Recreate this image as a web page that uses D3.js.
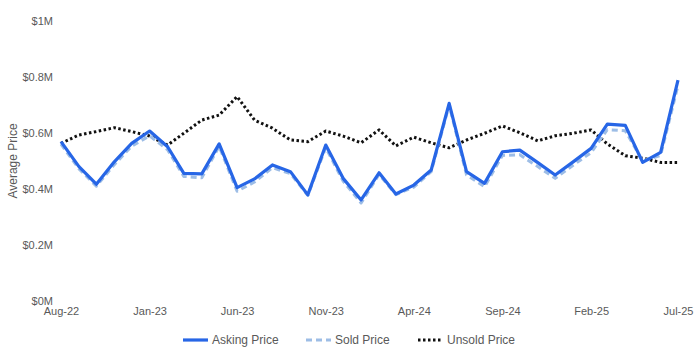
<!DOCTYPE html>
<html>
<head>
<meta charset="utf-8">
<script src="https://cdn.jsdelivr.net/npm/d3@7"></script>
<style>
  html, body { margin: 0; padding: 0; background: #fff; }
  svg { display: block; font-family: "Liberation Sans", Arial, sans-serif; }
</style>
</head>
<body>
<svg id="chart" width="700" height="350"></svg>
<script>
// Monthly series, Aug-22 through Jul-25
const months = d3.range(36).map(i => new Date(2022, 7 + i, 1));

const askingPrice = [
  0.569, 0.480, 0.417, 0.497, 0.563, 0.607, 0.551, 0.456, 0.454, 0.561,
  0.405, 0.436, 0.486, 0.462, 0.379, 0.557, 0.438, 0.361, 0.458, 0.382,
  0.414, 0.468, 0.706, 0.462, 0.420, 0.533, 0.539, 0.494, 0.450, 0.497,
  0.545, 0.632, 0.627, 0.495, 0.531, 0.789
];

const soldPrice = [
  0.560, 0.472, 0.410, 0.487, 0.553, 0.590, 0.540, 0.445, 0.440, 0.552,
  0.392, 0.425, 0.476, 0.455, 0.377, 0.548, 0.428, 0.350, 0.452, 0.380,
  0.407, 0.462, 0.700, 0.450, 0.408, 0.520, 0.522, 0.480, 0.438, 0.485,
  0.530, 0.612, 0.608, 0.500, 0.520, 0.770
];

const unsoldPrice = [
  0.563, 0.593, 0.605, 0.619, 0.605, 0.589, 0.557, 0.599, 0.646, 0.664,
  0.730, 0.646, 0.617, 0.575, 0.569, 0.607, 0.589, 0.565, 0.611, 0.554,
  0.585, 0.565, 0.547, 0.575, 0.599, 0.625, 0.601, 0.572, 0.590, 0.599,
  0.611, 0.561, 0.519, 0.510, 0.495, 0.495
];

const yTicks = [0, 0.2, 0.4, 0.6, 0.8, 1];
const xTickIndex = [0, 5, 10, 15, 20, 25, 30, 35];
const seriesNames = ["Asking Price", "Sold Price", "Unsold Price"];

const svg = d3.select("#chart");
const margin = { left: 61, right: 22, top: 21, bottom: 49 };
const W = 700, H = 350;

const x = d3.scaleTime()
  .domain([months[0], months[months.length - 1]])
  .range([margin.left, W - margin.right]);

const y = d3.scaleLinear()
  .domain([0, 1])
  .range([H - margin.bottom, margin.top]);

const fmtMonth = d3.timeFormat("%b-%y");
const fmtMoney = v => v === 1 ? "$1M" : (v === 0 ? "$0M" : "$" + d3.format(".1f")(v) + "M");

// Y axis labels
const yAxis = d3.axisLeft(y).tickValues(yTicks).tickFormat(fmtMoney).tickSize(0).tickPadding(8);
const gy = svg.append("g").attr("transform", `translate(${margin.left},0)`).call(yAxis);
gy.select(".domain").remove();
gy.selectAll("text").attr("fill", "#595959").attr("font-size", 11);

// X axis labels
const xAxis = d3.axisBottom(x)
  .tickValues(xTickIndex.map(i => months[i]))
  .tickFormat(fmtMonth).tickSize(0).tickPadding(6);
const gx = svg.append("g").attr("transform", `translate(0,${H - margin.bottom})`).call(xAxis);
gx.select(".domain").remove();
gx.selectAll("text").attr("fill", "#595959").attr("font-size", 11);

// Axis title
svg.append("text")
  .attr("transform", `translate(17,${(margin.top + H - margin.bottom) / 2}) rotate(-90)`)
  .attr("text-anchor", "middle")
  .attr("fill", "#595959")
  .attr("font-size", 12)
  .text("Average Price");

const line = d3.line().x((d, i) => x(months[i])).y(d => y(d));

const styles = [
  { data: askingPrice, color: "#2766e6", width: 3.2, dash: null },
  { data: soldPrice, color: "#9dbde6", width: 3, dash: "6,4" },
  { data: unsoldPrice, color: "#111111", width: 3, dash: "2.5,2.5" }
];

// Draw order: unsold, sold, asking (asking on top)
[2, 1, 0].forEach(k => {
  const s = styles[k];
  svg.append("path")
    .datum(s.data)
    .attr("fill", "none")
    .attr("stroke", s.color)
    .attr("stroke-width", s.width)
    .attr("stroke-linejoin", "round")
    .attr("stroke-dasharray", s.dash)
    .attr("d", line);
});

// Legend
const legendX = [183, 306, 418];
const legendY = 340;
seriesNames.forEach((name, k) => {
  const s = styles[k];
  const g = svg.append("g").attr("transform", `translate(${legendX[k]},${legendY})`);
  g.append("line")
    .attr("x1", 0).attr("x2", 25).attr("y1", 0).attr("y2", 0)
    .attr("stroke", s.color)
    .attr("stroke-width", s.width)
    .attr("stroke-dasharray", s.dash);
  g.append("text")
    .attr("x", 29).attr("y", 0).attr("dy", "0.35em")
    .attr("fill", "#595959")
    .attr("font-size", 12)
    .text(name);
});
</script>
</body>
</html>
